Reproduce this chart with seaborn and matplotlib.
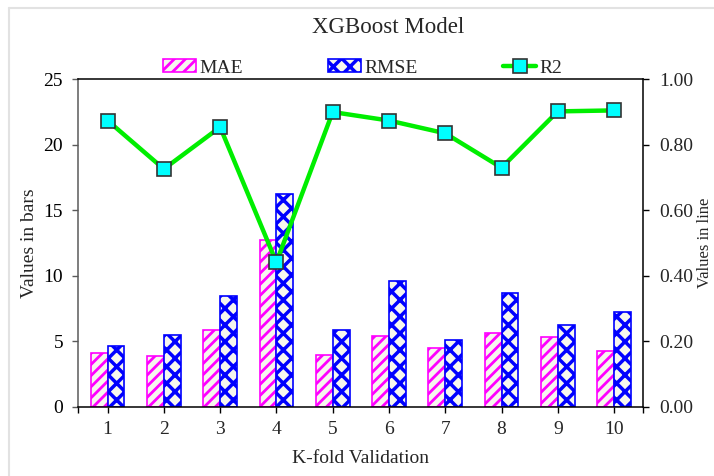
import numpy as np
import pandas as pd
import matplotlib
matplotlib.use("Agg")
import matplotlib.pyplot as plt
import seaborn as sns
from matplotlib.patches import Patch
from matplotlib.lines import Line2D
from matplotlib.ticker import FormatStrFormatter

# ---- data ----
folds = ["1", "2", "3", "4", "5", "6", "7", "8", "9", "10"]
mae = [4.08, 3.85, 5.83, 12.70, 3.92, 5.42, 4.46, 5.63, 5.30, 4.25]
rmse = [4.63, 5.50, 8.47, 16.26, 5.83, 9.57, 5.09, 8.68, 6.21, 7.21]
r2 = [0.874, 0.726, 0.854, 0.441, 0.900, 0.874, 0.835, 0.730, 0.902, 0.905]
metrics = ["MAE", "RMSE"]

LIGHT = "#f6f6ee"
MAGENTA = "#ff00ff"
BLUE = "#0000ff"
GREEN = "#00ee00"
CYAN = "#00ffff"
HATCHES = {"MAE": "///", "RMSE": "xx"}
HATCH_LW = {"MAE": 2.0, "RMSE": 2.5}

sns.set_style("ticks")
plt.rcParams["font.family"] = ["Liberation Serif", "DejaVu Serif"]
plt.rcParams["hatch.linewidth"] = 2.2

fig = plt.figure(figsize=(7.14, 4.76), dpi=100)
fig.patch.set_facecolor("white")
ax = fig.add_axes([0.1097, 0.1456, 0.7913, 0.6878])

df = pd.DataFrame({
    "Fold": folds * 2,
    "Metric": [metrics[0]] * len(folds) + [metrics[1]] * len(folds),
    "Value": mae + rmse,
})
sns.barplot(data=df, x="Fold", y="Value", hue="Metric", order=folds,
            hue_order=metrics, palette={m: LIGHT for m in metrics},
            width=0.6, gap=0, saturation=1, legend=False, ax=ax,
            linewidth=1.2, errorbar=None)


def style_patch(p, metric):
    p.set_facecolor(LIGHT)
    p.set_edgecolor(MAGENTA if metric == "MAE" else BLUE)
    p.set_hatch(HATCHES[metric])
    p.set_linewidth(1.2)
    if hasattr(p, "set_hatch_linewidth"):
        p.set_hatch_linewidth(HATCH_LW[metric])


for cont, m in zip(ax.containers, metrics):
    for p in cont:
        style_patch(p, m)

xmin, xmax = -0.52, 9.52
ax.set_xlim(xmin, xmax)
ax.set_ylim(0, 25)
ax.set_yticks([0, 5, 10, 15, 20, 25])
ax.set_xticks(range(len(folds)))
ax.set_xticklabels(folds)
ax.set_xticks([xmin, xmax], minor=True)

ax2 = ax.twinx()
sns.lineplot(x=np.arange(len(folds)), y=r2, ax=ax2, color=GREEN, lw=3.2,
             marker="s", markersize=9.5, markerfacecolor=CYAN,
             markeredgecolor="#333333", markeredgewidth=1.2, zorder=5)
ax2.set_ylim(0, 1.0)
ax2.set_yticks([0, 0.2, 0.4, 0.6, 0.8, 1.0])
ax2.yaxis.set_major_formatter(FormatStrFormatter("%.2f"))
ax2.set_xlim(xmin, xmax)

# spines
for s in ["top", "bottom"]:
    ax.spines[s].set_color("black")
    ax.spines[s].set_linewidth(1.1)
ax.spines["left"].set_color("#5a5a5a")
ax.spines["left"].set_linewidth(1.1)
ax.spines["right"].set_visible(False)
for s in ["left", "top", "bottom"]:
    ax2.spines[s].set_visible(False)
ax2.spines["right"].set_color("black")
ax2.spines["right"].set_linewidth(1.1)

ax.tick_params(axis="y", which="both", direction="out", length=4, width=1,
               color="#5a5a5a", labelsize=14, pad=7, labelcolor="black")
ax.tick_params(axis="x", which="both", direction="out", length=4, width=1,
               color="black", labelsize=14, pad=6)
ax2.tick_params(axis="y", direction="out", length=4.3, width=1,
                color="black", labelsize=14, pad=7)

ax.set_xlabel("K-fold Validation", fontsize=14, labelpad=9)
ax.set_ylabel("Values in bars", fontsize=14, labelpad=4)
ax2.set_ylabel("Values in line", fontsize=12)
ax2.yaxis.set_label_coords((697 - 78.3) / 565.0, 0.5)

fig.text(0.543, 1 - 33 / 476, "XGBoost Model", fontsize=16.5,
         ha="center", va="baseline")

mae_handle = Patch(facecolor=LIGHT, edgecolor=MAGENTA, hatch=HATCHES["MAE"],
                   linewidth=1.2)
rmse_handle = Patch(facecolor=LIGHT, edgecolor=BLUE, hatch=HATCHES["RMSE"],
                    linewidth=1.2)
handles = [
    mae_handle,
    rmse_handle,
    Line2D([], [], color=GREEN, lw=3.2, marker="s", markersize=9.5,
           markerfacecolor=CYAN, markeredgecolor="#333333",
           markeredgewidth=1.2),
]
leg = ax2.legend(handles, ["MAE", "RMSE", "R2"], ncol=3, loc="center",
                 bbox_to_anchor=(362.5 / 714, 1 - 68 / 476),
                 bbox_transform=fig.transFigure, frameon=False, fontsize=14,
                 handlelength=1.7, handleheight=0.6, handletextpad=0.15,
                 columnspacing=4.4, borderpad=0, borderaxespad=0)
for h, m in zip(leg.get_patches(), metrics):
    if hasattr(h, "set_hatch_linewidth"):
        h.set_hatch_linewidth(HATCH_LW[m])

# light frame around figure (top and left visible)
fig.add_artist(Line2D([9 / 714, 9 / 714], [0, 1 - 8 / 476],
                      transform=fig.transFigure, color="#e2e2e2", lw=1.5))
fig.add_artist(Line2D([9 / 714, 1], [1 - 8 / 476, 1 - 8 / 476],
                      transform=fig.transFigure, color="#e2e2e2", lw=1.5))

fig.savefig("out.png", dpi=100)
